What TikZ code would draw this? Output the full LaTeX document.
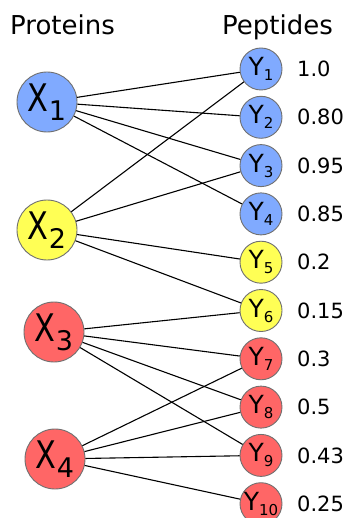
\documentclass[tikz,border=0pt]{standalone}
\usepackage{fontspec}
\setmainfont{DejaVu Sans}
\newfontfamily\condfont[FakeStretch=0.8]{DejaVu Sans}
\definecolor{pblue}{HTML}{80AAFF}
\definecolor{pyellow}{HTML}{FFFF55}
\definecolor{pred}{HTML}{FF6666}
\definecolor{rimgray}{HTML}{707070}
\newcommand{\xlab}[1]{{\condfont\fontsize{38}{38}\selectfont X}\raisebox{-9pt}{\fontsize{27}{27}\selectfont #1}}
\newcommand{\ylab}[1]{{\fontsize{25}{25}\selectfont Y}\raisebox{-5pt}{\fontsize{15}{15}\selectfont #1}}
\begin{document}
\begin{tikzpicture}[x=1pt,y=-1pt,
  prot/.style={circle,draw=rimgray,line width=0.9pt,minimum size=60pt,inner sep=0pt},
  pep/.style={circle,draw=rimgray,line width=0.9pt,minimum size=42pt,inner sep=0pt},
  val/.style={anchor=west,font=\fontsize{21}{21}\selectfont,inner sep=0pt},
  head/.style={anchor=base west,font=\fontsize{26}{26}\selectfont,inner sep=0pt},
  edge/.style={line width=1.1pt,black}]
\useasboundingbox (0,0) rectangle (346,518);
\node[head] (hp) at (10,35) {Proteins};
\node[head] (hq) at (222,35) {Peptides};
\node[prot,fill=pblue,label=center:{\xlab{1}}] (X1) at (47,102) {};
\node[prot,fill=pyellow,label=center:{\xlab{2}}] (X2) at (47,230) {};
\node[prot,fill=pred,label=center:{\xlab{3}}] (X3) at (54,332) {};
\node[prot,fill=pred,label=center:{\xlab{4}}] (X4) at (55,459) {};
\foreach \i/\c/\v in {1/pblue/1.0,2/pblue/0.80,3/pblue/0.95,4/pblue/0.85,5/pyellow/0.2,6/pyellow/0.15,7/pred/0.3,8/pred/0.5,9/pred/0.43,10/pred/0.25}{
  \node[pep,fill=\c,label=center:{\ylab{\i}}] (Y\i) at (261,{69+48.3*(\i-1)}) {};
  \node[val] (V\i) at (297,{69+48.3*(\i-1)}) {\v};
}
\foreach \a/\b in {X1/Y1,X1/Y2,X1/Y3,X1/Y4,X2/Y1,X2/Y3,X2/Y5,X2/Y6,X3/Y6,X3/Y7,X3/Y8,X3/Y9,X4/Y7,X4/Y8,X4/Y9,X4/Y10}{
  \draw[edge] (\a) -- (\b);
}
\end{tikzpicture}
\end{document}
